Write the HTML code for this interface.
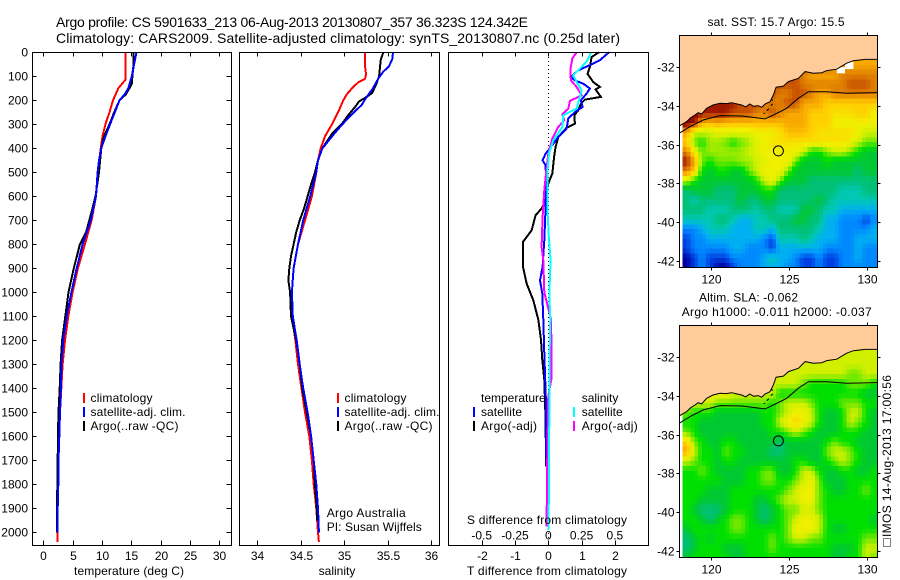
<!DOCTYPE html>
<html>
<head>
<meta charset="utf-8">
<title>Argo profile chart</title>
<style>
html,body{margin:0;padding:0;background:#fff;width:900px;height:580px;overflow:hidden}
svg{display:block}
text{font-family:"Liberation Sans",sans-serif;font-size:12px;fill:#000}
.ttl{font-size:14px}
</style>
</head>
<body>
<svg id="chart" xmlns="http://www.w3.org/2000/svg" width="900" height="580" viewBox="0 0 900 580">
<defs>
<clipPath id="clip-map1"><rect x="679.5" y="35.5" width="198" height="232"/></clipPath>
<clipPath id="clip-map2"><rect x="679.5" y="325.5" width="198" height="232"/></clipPath>
</defs>
<text class="ttl" x="56" y="27" textLength="472">Argo profile: CS 5901633_213 06-Aug-2013 20130807_357 36.323S 124.342E</text>
<text class="ttl" x="56" y="43" textLength="564">Climatology: CARS2009. Satellite-adjusted climatology: synTS_20130807.nc (0.25d later)</text>
<g id="maps"></g>
<g id="profiles"></g>
<g id="frames"></g>

<text x="74" y="575" textLength="110">temperature (deg C)</text>
<text x="337" y="575" text-anchor="middle">salinity</text>
<text x="467" y="575" textLength="160">T difference from climatology</text>
<text x="467" y="524" textLength="160">S difference from climatology</text>

<g>
<rect x="83" y="393" width="2" height="10" fill="#f00"/>
<rect x="83" y="407" width="2" height="10" fill="#00f"/>
<rect x="83" y="421" width="2" height="10" fill="#000"/>
<text x="90.5" y="402" textLength="62">climatology</text>
<text x="90.5" y="416" textLength="95">satellite-adj. clim.</text>
<text x="90.5" y="430" textLength="88">Argo(..raw -QC)</text>
</g>
<g>
<rect x="337" y="393" width="2" height="10" fill="#f00"/>
<rect x="337" y="407" width="2" height="10" fill="#00f"/>
<rect x="337" y="421" width="2" height="10" fill="#000"/>
<text x="344.5" y="402" textLength="62">climatology</text>
<text x="344.5" y="416" textLength="95">satellite-adj. clim.</text>
<text x="344.5" y="430" textLength="88">Argo(..raw -QC)</text>
</g>
<g>
<text x="481" y="402">temperature</text>
<text x="581.7" y="402">salinity</text>
<rect x="473" y="407" width="2" height="10" fill="#00f"/>
<rect x="473" y="421" width="2" height="10" fill="#000"/>
<rect x="573" y="407" width="2" height="10" fill="#0ff"/>
<rect x="573" y="421" width="2" height="10" fill="#f0f"/>
<text x="481" y="416" textLength="41">satellite</text>
<text x="481" y="430" textLength="56">Argo(-adj)</text>
<text x="581.7" y="416" textLength="41">satellite</text>
<text x="581.7" y="430" textLength="56">Argo(-adj)</text>
</g>
<text x="326.7" y="517" textLength="79">Argo Australia</text>
<text x="326.7" y="531" textLength="95">PI: Susan Wijffels</text>

<text x="707.5" y="26" textLength="137">sat. SST: 15.7 Argo: 15.5</text>
<text x="699" y="301.5" textLength="99">Altim. SLA: -0.062</text>
<text x="681.7" y="316" textLength="190">Argo h1000: -0.011 h2000: -0.037</text>

<text transform="translate(891,537) rotate(-90)" textLength="162">IMOS 14-Aug-2013 17:00:56</text>
<rect x="883.5" y="538.5" width="7" height="8" fill="none" stroke="#000" stroke-width="1" stroke-dasharray="1 1"/>
</svg>
<script>
// ---- profile data (depth in metres, temperature in deg C, salinity in psu)
const climDepth = [0,60,115,150,200,250,300,350,400,500,600,700,800,900,1000,1100,1200,1300,1400,1500,1600,1700,1800,1900,2000,2040];
const climTemp  = [14.0,14.0,14.0,12.8,11.9,11.3,10.6,10.1,9.8,9.3,9.0,8.25,7.1,5.9,5.0,4.27,3.7,3.3,3.07,2.85,2.73,2.6,2.56,2.45,2.4,2.4];
const climSalDepth = [0,60,90,110,125,150,175,200,250,300,350,400,450,500,600,700,800,900,1000,1100,1200,1300,1400,1500,1600,1700,1800,1900,2000,2040];
const climSal   = [35.24,35.24,35.25,35.24,35.16,35.09,35.03,34.99,34.93,34.86,34.78,34.73,34.70,34.68,34.63,34.55,34.47,34.42,34.40,34.40,34.44,34.47,34.51,34.55,34.60,34.63,34.65,34.68,34.70,34.71];

const satTempDepth = [0,50,100,150,175,200,250,300,350,400,450,500,600,700,800,900,1000,1100,1200,1300,1400,1500,1600,1700,1800,1900,2000];
const satTemp   = [15.9,15.5,15.1,14.5,13.9,13.0,12.2,11.4,10.6,9.9,9.5,9.27,9.0,8.1,6.7,5.7,4.8,4.0,3.4,3.1,3.0,2.85,2.73,2.6,2.56,2.45,2.4];
const satSalDepth = [0,30,60,80,110,150,190,220,240,280,320,360,400,450,500,600,700,800,900,1000,1100,1200,1300,1400,1500,1600,1700,1800,1900,2000];
const satSal    = [35.56,35.55,35.51,35.45,35.39,35.33,35.25,35.2,35.14,35.03,34.93,34.84,34.75,34.70,34.68,34.61,34.53,34.47,34.42,34.40,34.41,34.455,34.49,34.53,34.58,34.62,34.65,34.68,34.70,34.71];

const argoTempDepth = [0,50,100,130,150,175,200,250,300,350,400,450,500,600,650,700,750,800,900,1000,1100,1200,1300,1400,1500,1600,1700,1800,1900,2000];
const argoTemp  = [15.4,15.4,15.2,15.1,14.7,14.1,13.0,12.1,11.3,10.35,9.9,9.7,9.5,8.9,8.4,7.85,7.3,6.25,5.2,4.3,3.75,3.2,2.95,2.8,2.6,2.5,2.45,2.4,2.3,2.3];
const argoSalDepth = [0,30,60,100,130,170,190,205,230,260,300,340,400,450,500,550,600,650,700,750,800,850,900,950,1000,1100,1200,1300,1400,1500,1600,1700,1800,1900,1950];
const argoSal   = [35.45,35.42,35.41,35.40,35.37,35.32,35.24,35.17,35.12,35.05,34.97,34.86,34.75,34.70,34.665,34.62,34.58,34.54,34.49,34.45,34.42,34.39,34.37,34.36,34.38,34.39,34.45,34.49,34.52,34.57,34.62,34.65,34.665,34.685,34.69];

// ---- differences from climatology
const dtArgoDepth = [0,20,60,90,124,144,155,186,197,214,242,262,297,314,353,394,429,505,547,617,651,679,742,790,894,964,1033,1114,1198,1282,1365,1532,1726];
const dtArgo = [1.52,1.3,1.25,1.18,1.35,1.55,1.42,1.58,1.1,.98,.9,.78,.8,.55,.3,.22,.18,.12,0,-.08,-.2,-.38,-.5,-.76,-.76,-.65,-.45,-.3,-.22,-.18,-.12,-.08,-.07];
const dtSatDepth = [0,33,50,75,103,117,131,151,172,200,228,249,276,318,353,394,422,450,471,519,644,783,894,950,1006,1114,1254,1462,1726];
const dtSat = [1.82,1.55,1.3,.9,.68,.8,1.05,1.25,1.15,.98,1.03,.8,.6,.55,.3,.08,-.08,-.17,-.08,-.07,-.08,-.12,-.17,-.25,-.18,-.15,-.12,-.07,-.06];
const dsArgoDepth = [0,26,75,117,144,179,203,235,258,283,311,360,422,505,575,686,811,867,1000,1114,1254,1358,1431,1754,1976];
const dsArgo = [.2125,.18,.165,.17,.2125,.25,.1625,.15,.105,.12,.075,.03,0,-.0175,-.03,-.0425,-.05,-.0375,-.03,.02,.025,.025,0,-.01,-.0125];
const dsSatDepth = [0,33,61,96,124,158,200,235,262,311,367,422,505,644,783,867,1006,1114,1254,1532,1990];
const dsSat = [.32,.295,.25,.1875,.2125,.25,.23,.2125,.1125,.105,.0375,.005,-.0075,-.0075,.005,.0175,.0075,.015,.01,.0075,.0025];

// ---- axis tick labels
const depthTicks = [0,100,200,300,400,500,600,700,800,900,1000,1100,1200,1300,1400,1500,1600,1700,1800,1900,2000];
const tempTicks = [0,5,10,15,20,25,30];
const salTicks = [34,34.5,35,35.5,36];
const dtTicks = [-2,-1,0,1,2];
const dsTickLabels = ['-0.5','-0.25','0','0.25','0.5'];
const lonTicks = [120,125,130];
const latTicks = [-32,-34,-36,-38,-40,-42];

// ---- map data: rows north to south, 0.5 degree cells, colour-scale level (0 deep blue .. 16 dark red)
const sstLevels = [
[14,14,14,14,14,14,14,14,14,14,14,14,14,14,14,14,14,14,14,14,12,12,12,12,12],
[14,14,14,14,14,14,14,14,14,14,14,14,14,14,14,13,12,12,12,12,13,13,13,13,13],
[14,14,14,14,14,14,14,14,14,14,14,14,14,14,14,13,13,13,13,13,13,14,14,14,13],
[14,14,14,14,14,14,14,14,14,14,14,14,13,13,14,14,13,12,12,13,13,13,13,13,13],
[14,14,15,15,15,15,15,14,14,14,13,13,13,14,14,12,12,12,11,11,11,11,11,11,11],
[16,16,15,15,15,15,14,14,14,13,13,14,13,12,12,12,11,11,11,10.5,10.5,10.5,11,11,10],
[16,15,12,11.5,12,11.5,11.5,11.5,11.5,11.5,11.5,11.5,11.5,12,12,12,11,11,11,10,10,10,10,10,10],
[12,9,9,9,9.5,9.5,9.5,9.5,9.5,10,10,10,10.5,11.5,11.5,11.5,11,10.5,10.5,10.5,10.5,10.5,10,9,9],
[11,8,7,8.5,8.5,8,7,8,8.5,9.5,10,10.5,10.5,10.5,10.5,10.5,10.5,10.5,10.5,10.5,10.5,10,9,8,8],
[13,10,8,8.5,8.5,8.5,8.5,8.5,9,9.5,10,10,10,10,10,9,7,7,8,9,9,8,7,6,6],
[15,12,8,7,8,8,8,8.5,8.5,9,9.5,10,10,10,8,6,6,6,7,6,6,6,6,6,6],
[13,11,7,6,7,7,6,6,8,9,10,10,10,8,6,6,6,6,6,6,6,6,5,6,6],
[9,7,6,6,6,6,6,6,6,7,9,10,8,6,6,6,5,5,5,5,5,5,5,5,5],
[5,6,6,6,5,5,5,6,6,6,7,7,5,5,5,5,5,5,5,5,4,4,4,5,5],
[5,4,5,5,5,5,5,6,5,5,6,6,5,5,5,5,5,6,5,4,4,4,4,4,4],
[5,5,5,4,4,4,5,5,5,4,5,5,4,4,4,6,6,5,4,4,3,3,3,3,3],
[4,4,4,4,5,5,4,3,3,4,4,5,5,5,6,6,5,5,3,3,2,2,2,1,2],
[2,2,3,4,4,4,3,3,3,4,4,3,5,5,5,5,5,4,3,3,2,2,2,2,3],
[1,2,2,3,3,3,3,3,3,3,2,1,4,4,4,5,4,3,3,3,2,2,3,3,3],
[1,2,2,2,2,2,3,3,2,2,2,1,3,3,3,3,3,3,2,2,2,2,3,2,2],
[0,1,2,1,1,1,2,2,2,2,3,4,3,3,2,1,1,2,1,1,2,2,3,2,2],
[0,1,2,1,0,0,1,2,2,2,3,3,3,2,2,1,1,2,1,1,2,2,2,2,2]
];
const slaLevels = [
[9,9,9,9,9,9,9,9,9,9,9,9,9,9,9,9,9,9,9,9,9,9,9,9,9],
[9,9,9,9,9,9,9,9,9,9,9,9,9,9,9,9,9,9,9,9,9,9,9,9,9],
[9,9,9,9,9,9,9,9,9,9,9,9,9,9,9,9,9,9,9,9,9,8,8,9,9],
[9,9,9,9,9,9,9,9,9,9,9,9,9,9,9,8,7,7,7,7,7,8,8,8,7],
[9,9,10,10,10,10,9,9,9,9,9,9,7,7,7,7,7,7,7,7,7,7,7,6,6],
[9,9,9,9,8,8,8,8,8,8,8,7,8,9,9,9,8,7,7,7,8,8,8,7,7],
[8,7,7,7,6,6,6,6,6,6,7,7,8,9,10,10,9,7,6,6,7,9,9,7,6],
[7,7,6,6,6,6,6,6,6,6,7,7,9,10,11,10,9,7,6,6,7,9,8,7,6],
[8,7,6,6,6,6,6,6,6,6,6,7,7,8,9,8,7,6,6,6,7,7,7,6,6],
[11,8,7,6,6,7,7,6,6,6,6,6,5,6,6,6,6,6,7,8,7,7,6,6,6],
[12,9,7,7,6,8,7,7,6,6,6,5,5,6,6,6,6,6,8,9,9,8,7,6,6],
[9,8,7,7,6,7,7,6,6,6,6,6,6,6,7,7,6,6,7,8,9,8,7,6,6],
[7,7,8,7,6,6,6,6,7,7,8,8,6,6,7,9,9,7,6,6,7,7,6,6,7],
[7,7,7,7,7,6,6,6,7,7,8,8,7,7,8,9,10,8,6,6,6,7,7,7,7],
[7,7,7,6,6,6,7,7,7,7,7,7,7,8,9,10,10,8,7,6,6,7,7,8,7],
[7,7,6,6,6,6,7,7,7,6,6,7,8,9,9,10,10,8,7,7,7,7,7,7,7],
[7,6,5,5,5,6,7,7,7,6,5,6,7,8,8,9,9,8,7,7,7,7,7,7,7],
[7,7,6,5,6,7,8,8,7,6,5,6,7,8,9,10,10,9,7,7,7,7,7,7,6],
[6,7,7,7,7,7,8,8,7,7,7,7,7,8,10,10,10,9,7,6,6,7,7,7,7],
[5,6,7,6,7,7,7,7,7,7,7,8,7,8,9,9,8,8,7,7,7,7,7,8,8],
[5,6,7,7,7,6,6,6,7,7,7,8,7,7,7,7,7,7,7,6,6,6,7,9,9],
[6,7,7,7,7,7,6,6,7,7,7,7,7,7,7,7,7,7,7,6,6,7,7,9,8]
];
const coastLon = [130.68,129.89,129.15,128.72,128.08,127.44,127.12,126.58,126.05,125.62,124.98,124.66,124.19,124.02,123.80,123.48,123.27,123.05,122.75,122.5,122.25,121.99,121.7,121.35,120.98,120.60,120.15,119.74,119.42,119.2,118.99,118.7,118.46,117.99];
const coastLat = [-31.59,-31.59,-31.66,-31.79,-32.10,-32.17,-32.28,-32.31,-32.22,-32.57,-32.74,-32.97,-33.03,-33.43,-33.78,-33.90,-34.07,-33.98,-34.02,-33.9,-34.05,-33.95,-33.9,-33.83,-33.88,-33.86,-33.95,-34.12,-34.41,-34.35,-34.47,-34.62,-34.81,-35.03];
const shelfLon = [117.99,118.68,119.53,120.60,121.99,123.48,124.02,124.87,125.62,126.26,127.44,128.72,130.68];
const shelfLat = [-35.41,-35.07,-34.72,-34.50,-34.52,-34.67,-34.47,-34.12,-33.60,-33.26,-33.26,-33.34,-33.31];
const islandLon = [123.9,124.0,123.85,123.6,123.4];
const islandLat = [-33.6,-33.85,-34.0,-34.25,-34.4];
const gapLon0 = [128.08,128.61];
const gapLon1 = [128.61,129.15];
const gapLat0 = [-32.0,-31.72];
const gapLat1 = [-32.31,-32.09];
const floatLon = 124.342;
const floatLat = -36.323;

// ---- axis functions
const xTemp = v => 43.3 + 5.86 * v;
const xSal  = v => 257 + 87.2 * (v - 34);
const xDT   = v => 548.3 + 33.3 * v;
const xDS   = v => 548.3 + 133.2 * v;
const yDepth = d => 52.3 + 0.24 * d;
const xLon  = v => 710.7 + 15.6 * (v - 120);
const yLat  = (v, off) => 67.3 + off - 19.33 * (v + 32);

const NS = 'http://www.w3.org/2000/svg';
const mapsG = document.getElementById('maps');
const profG = document.getElementById('profiles');
const axG = document.getElementById('frames');

function polyline(parent, xs, ys, color, width, name) {
  const el = document.createElementNS(NS, 'polyline');
  
  
  el.setAttribute('points', xs.map((x, i) => x.toFixed(1) + ',' + ys[i].toFixed(1)).join(' '));
  el.setAttribute('fill', 'none');
  el.setAttribute('stroke', color);
  el.setAttribute('stroke-width', width);
  el.setAttribute('shape-rendering', 'crispEdges');
  parent.appendChild(el);
  return el;
}
function tick(x1, y1, x2, y2, name) {
  const el = document.createElementNS(NS, 'line');
  
  
  el.setAttribute('x1', x1); el.setAttribute('y1', y1);
  el.setAttribute('x2', x2); el.setAttribute('y2', y2);
  el.setAttribute('stroke', '#000');
  el.setAttribute('stroke-width', 1);
  el.setAttribute('shape-rendering', 'crispEdges');
  axG.appendChild(el);
}
function label(x, y, str, anchor, name) {
  const el = document.createElementNS(NS, 'text');
  
  
  el.setAttribute('x', x); el.setAttribute('y', y);
  el.setAttribute('text-anchor', anchor);
  el.textContent = str;
  axG.appendChild(el);
}
function frame(x0, y0, x1, y1, name) {
  const el = document.createElementNS(NS, 'rect');
  
  
  el.setAttribute('x', x0); el.setAttribute('y', y0);
  el.setAttribute('width', x1 - x0); el.setAttribute('height', y1 - y0);
  el.setAttribute('fill', 'none');
  el.setAttribute('stroke', '#000');
  el.setAttribute('stroke-width', 1);
  el.setAttribute('shape-rendering', 'crispEdges');
  axG.appendChild(el);
}

// ---- colour scale (continuous between the level stops)
const scaleStops = [[0,0,160],[0,64,224],[0,136,255],[0,176,240],[0,200,180],[0,192,120],[0,200,50],[0,224,0],[112,232,0],[208,240,0],[240,240,0],[255,208,0],[248,168,0],[224,128,0],[200,80,0],[160,24,0],[128,0,0]];
function levelColor(v) {
  const t = Math.max(0, Math.min(scaleStops.length - 1, v));
  const i = Math.min(scaleStops.length - 2, Math.floor(t));
  const f = t - i;
  const a = scaleStops[i], b = scaleStops[i + 1];
  const ch = k => Math.round(a[k] + (b[k] - a[k]) * f);
  return 'rgb(' + ch(0) + ',' + ch(1) + ',' + ch(2) + ')';
}
function sampleLevels(levels, u, w) {
  const rows = levels.length, cols = levels[0].length;
  const uc = Math.max(0, Math.min(cols - 1, u));
  const wc = Math.max(0, Math.min(rows - 1, w));
  const c0 = Math.min(cols - 2, Math.floor(uc)), r0 = Math.min(rows - 2, Math.floor(wc));
  const fu = uc - c0, fw = wc - r0;
  return (levels[r0][c0] * (1 - fu) + levels[r0][c0 + 1] * fu) * (1 - fw) +
         (levels[r0 + 1][c0] * (1 - fu) + levels[r0 + 1][c0 + 1] * fu) * fw;
}

// ---- maps
function drawMap(levels, off, clipId, prefix) {
  const g = document.createElementNS(NS, 'g');
  
  
  g.setAttribute('clip-path', 'url(#' + clipId + ')');
  mapsG.appendChild(g);
  const lon0 = 118.2, lat0 = -31.62, step = 0.25;
  const nRows = levels.length * 2, nCols = levels[0].length * 2;
  for (let r = 0; r < nRows; r++) {
    for (let c = 0; c < nCols; c++) {
      const el = document.createElementNS(NS, 'rect');
      
      
      const x0 = xLon(lon0 + c * step), x1 = xLon(lon0 + (c + 1) * step);
      const y0 = yLat(lat0 - r * step, off), y1 = yLat(lat0 - (r + 1) * step, off);
      el.setAttribute('x', x0.toFixed(1));
      el.setAttribute('y', y0.toFixed(1));
      el.setAttribute('width', (x1 - x0 + 0.4).toFixed(1));
      el.setAttribute('height', (y1 - y0 + 0.4).toFixed(1));
      el.setAttribute('fill', levelColor(sampleLevels(levels, (c + 0.5) / 2 - 0.5, (r + 0.5) / 2 - 0.5)));
      el.setAttribute('shape-rendering', 'crispEdges');
      g.appendChild(el);
    }
  }
  if (prefix === 'sst') {
    gapLon0.forEach((lon, i) => {
      const el = document.createElementNS(NS, 'rect');
      
      
      el.setAttribute('x', xLon(lon));
      el.setAttribute('y', yLat(gapLat0[i], off));
      el.setAttribute('width', xLon(gapLon1[i]) - xLon(lon));
      el.setAttribute('height', yLat(gapLat1[i], off) - yLat(gapLat0[i], off));
      el.setAttribute('fill', '#fff');
      g.appendChild(el);
    });
  }
  const land = document.createElementNS(NS, 'polygon');
  
  
  const topLat = -30.2;
  const landPts = [[xLon(130.8), yLat(topLat, off)], [xLon(130.8), yLat(coastLat[0], off)]]
    .concat(coastLon.map((x, i) => [xLon(x), yLat(coastLat[i], off)]))
    .concat([[xLon(117.9), yLat(coastLat[coastLat.length - 1], off)], [xLon(117.9), yLat(topLat, off)]]);
  land.setAttribute('points', landPts.map(p => p[0].toFixed(1) + ',' + p[1].toFixed(1)).join(' '));
  land.setAttribute('fill', '#ffcc99');
  g.appendChild(land);
  polyline(g, coastLon.map(xLon), coastLat.map(v => yLat(v, off)), '#000', 1, prefix + '-coastline').removeAttribute('shape-rendering');
  polyline(g, shelfLon.map(xLon), shelfLat.map(v => yLat(v, off)), '#000', 1, prefix + '-shelf-contour').removeAttribute('shape-rendering');
  const isl = polyline(g, islandLon.map(xLon), islandLat.map(v => yLat(v, off)), '#000', 1, prefix + '-coastal-detail');
  isl.setAttribute('stroke-dasharray', '3 3');
  const c = document.createElementNS(NS, 'circle');
  
  
  c.setAttribute('cx', xLon(floatLon).toFixed(1));
  c.setAttribute('cy', yLat(floatLat, off).toFixed(1));
  c.setAttribute('r', 5);
  c.setAttribute('fill', 'none');
  c.setAttribute('stroke', '#000');
  c.setAttribute('stroke-width', 1);
  g.appendChild(c);
}
drawMap(sstLevels, 0, 'clip-map1', 'sst');
drawMap(slaLevels, 290, 'clip-map2', 'sla');

// ---- profiles
polyline(profG, climTemp.map(xTemp), climDepth.map(yDepth), '#f00', 2, 'temperature-climatology-line');
polyline(profG, argoTemp.map(xTemp), argoTempDepth.map(yDepth), '#000', 2, 'temperature-argo-line');
polyline(profG, satTemp.map(xTemp), satTempDepth.map(yDepth), '#00f', 2, 'temperature-satellite-line');
polyline(profG, climSal.map(xSal), climSalDepth.map(yDepth), '#f00', 2, 'salinity-climatology-line');
polyline(profG, argoSal.map(xSal), argoSalDepth.map(yDepth), '#000', 2, 'salinity-argo-line');
polyline(profG, satSal.map(xSal), satSalDepth.map(yDepth), '#00f', 2, 'salinity-satellite-line');

// zero line in difference panel
const zeroLine = document.createElementNS(NS, 'line');


zeroLine.setAttribute('x1', 548.5);
zeroLine.setAttribute('x2', 548.5);
zeroLine.setAttribute('y1', 53);
zeroLine.setAttribute('y2', 545);
zeroLine.setAttribute('stroke', '#000');
zeroLine.setAttribute('stroke-width', 1);
zeroLine.setAttribute('stroke-dasharray', '1 3');
zeroLine.setAttribute('shape-rendering', 'crispEdges');
profG.appendChild(zeroLine);

polyline(profG, dtArgo.map(xDT), dtArgoDepth.map(yDepth), '#000', 2, 'temperature-difference-argo-line');
polyline(profG, dtSat.map(xDT), dtSatDepth.map(yDepth), '#00f', 2, 'temperature-difference-satellite-line');
polyline(profG, dsArgo.map(xDS), dsArgoDepth.map(yDepth), '#f0f', 2, 'salinity-difference-argo-line');
polyline(profG, dsSat.map(xDS), dsSatDepth.map(yDepth), '#0ff', 2, 'salinity-difference-satellite-line');

// ---- frames, ticks and labels
frame(32.5, 52.5, 231.5, 545.5, 'temperature-panel-frame');
frame(239.5, 52.5, 439.5, 545.5, 'salinity-panel-frame');
frame(448.5, 52.5, 648.5, 545.5, 'difference-panel-frame');
frame(679.5, 35.5, 877.5, 267.5, 'sst-map-frame');
frame(679.5, 325.5, 877.5, 557.5, 'sla-map-frame');

depthTicks.forEach(d => {
  const y = Math.round(yDepth(d)) + 0.5;
  if (d > 0) {
    tick(32.5, y, 36.5, y, 'depth-tick-left');
    tick(226.5, y, 231.5, y, 'depth-tick-right');
  }
  label(28, y + 4, String(d), 'end', 'depth-tick-label');
});
function xTicks(values, xf, labels, name, labelY) {
  values.forEach((v, i) => {
    const x = Math.round(xf(v)) + 0.5;
    tick(x, 52.5, x, 56.5, name + '-tick-top');
    tick(x, 540.5, x, 545.5, name + '-tick-bottom');
    label(x, labelY, labels[i], 'middle', name + '-tick-label');
  });
}
xTicks(tempTicks, xTemp, tempTicks.map(String), 'temperature', 560);
xTicks(salTicks, xSal, salTicks.map(String), 'salinity', 560);
xTicks(dtTicks, xDT, dtTicks.map(String), 't-difference', 560);
dtTicks.forEach((v, i) => {
  label(xDT(v), 539.5, dsTickLabels[i], 'middle', 's-difference-tick-label');
});

[0, 290].forEach(off => {
  const top = 35.5 + off, bot = 267.5 + off;
  lonTicks.forEach(v => {
    const x = Math.round(xLon(v)) + 0.5;
    tick(x, top - 3, x, top, 'longitude-tick');
    tick(x, bot, x, bot + 3, 'longitude-tick');
    label(x, 283.5 + off, String(v), 'middle', 'longitude-tick-label');
  });
  latTicks.forEach(v => {
    const y = Math.round(yLat(v, off)) + 0.5;
    tick(676.5, y, 679.5, y, 'latitude-tick');
    tick(877.5, y, 880.5, y, 'latitude-tick');
    label(674.5, y + 4, String(v), 'end', 'latitude-tick-label');
  });
});
</script>
</body>
</html>
